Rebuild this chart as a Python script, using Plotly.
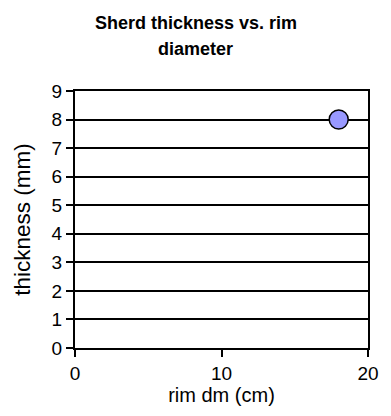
import plotly.graph_objects as go

rim_dm = [18]
thickness = [8]
x_ticks = [0, 10, 20]
y_ticks = list(range(0, 10))
title_lines = ["Sherd thickness vs. rim", "diameter"]

fig = go.Figure()
fig.add_trace(go.Scatter(
    x=rim_dm, y=thickness, mode="markers",
    marker=dict(size=19, color="#9999FF", line=dict(color="black", width=1.5)),
    showlegend=False, cliponaxis=False,
))

font = "Liberation Sans, Arial, sans-serif"
fig.update_layout(
    width=391, height=416,
    margin=dict(l=75, r=15, t=91, b=68),
    paper_bgcolor="white", plot_bgcolor="white",
    font=dict(family=font, color="black", size=19),
    xaxis=dict(range=[0, 20], tickvals=x_ticks, showgrid=False, zeroline=False,
               showline=True, linecolor="black", linewidth=2, mirror=True,
               ticks="outside", ticklen=7, tickwidth=2, tickcolor="black",
               title=dict(text="rim dm (cm)", font=dict(size=20), standoff=3),
               tickfont=dict(size=19)),
    yaxis=dict(range=[0, 9], tickvals=y_ticks, showgrid=True, gridcolor="black", gridwidth=2,
               zeroline=False, showline=True, linecolor="black", linewidth=2, mirror=True,
               ticks="outside", ticklen=7, tickwidth=2, tickcolor="black",
               title=dict(text="thickness (mm)", font=dict(size=22.5), standoff=15),
               tickfont=dict(size=19)),
)
for line, shift in zip(title_lines, [68, 42]):
    fig.add_annotation(text=f"<b>{line}</b>", xref="paper", yref="paper", x=0.5, y=1,
                       xanchor="center", yanchor="middle", xshift=-26, yshift=shift,
                       showarrow=False, font=dict(size=18, family=font, color="black"))

fig.write_html("out.html", config={"displayModeBar": False})
with open("out.html", "r", encoding="utf-8") as f:
    html = f.read()
html = html.replace("<body>", '<body style="margin:0;overflow:hidden">', 1)
with open("out.html", "w", encoding="utf-8") as f:
    f.write(html)
